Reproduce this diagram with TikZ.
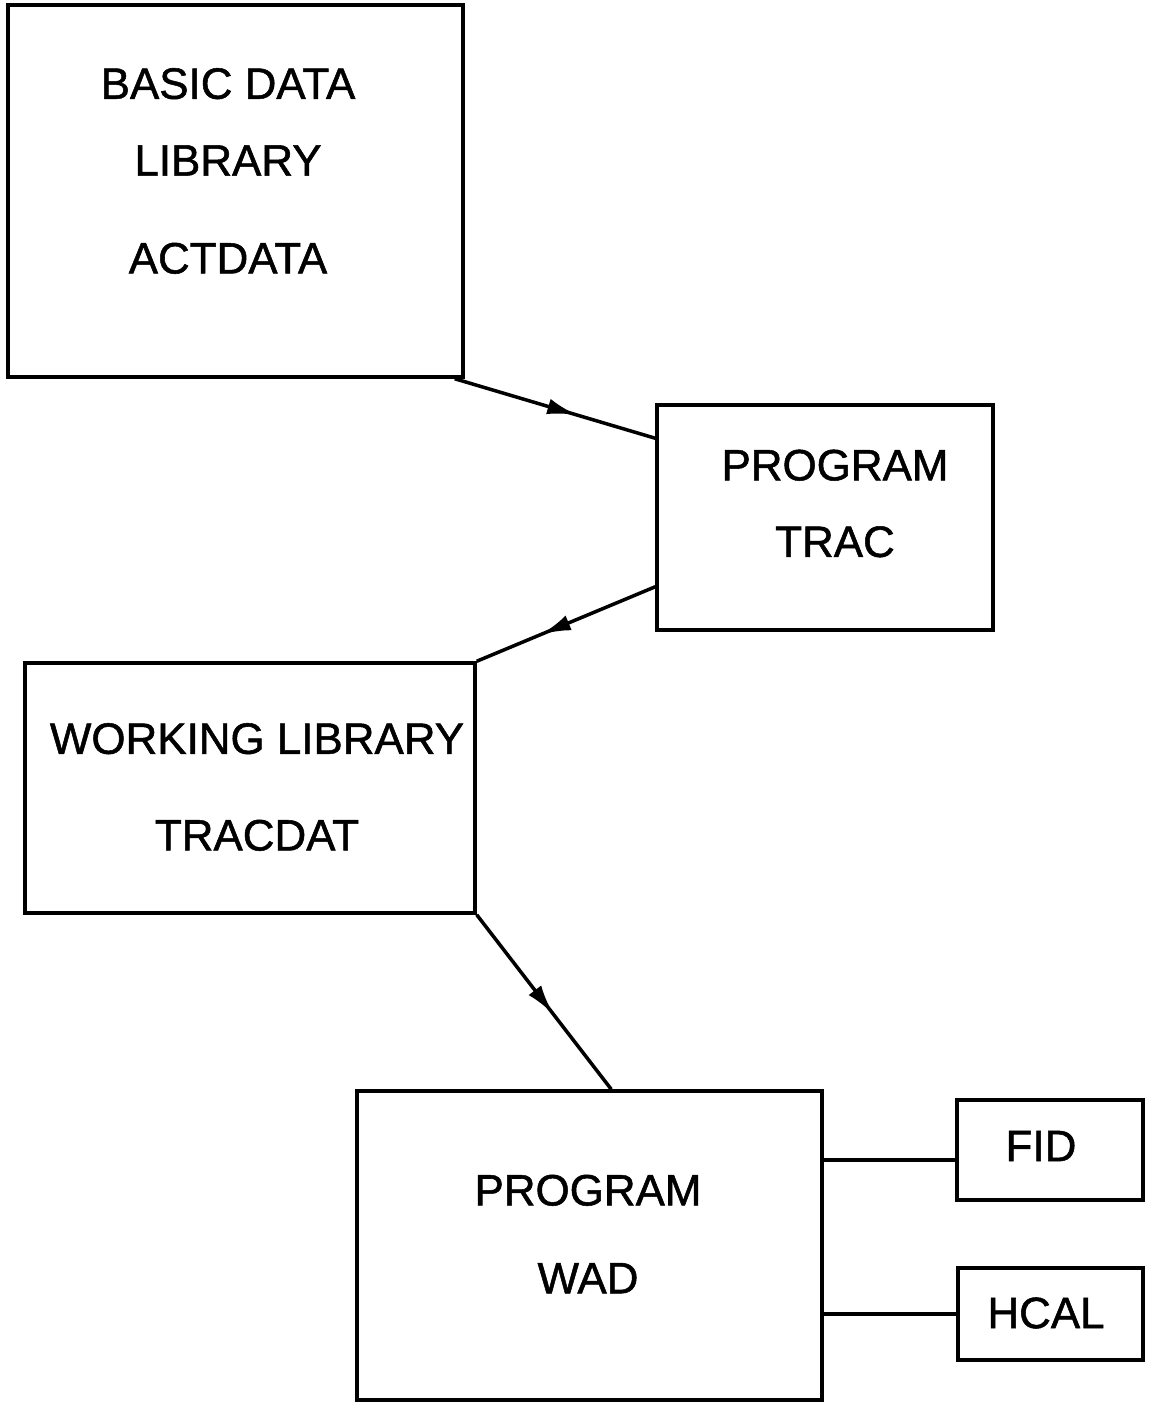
\documentclass[tikz,border=0pt]{standalone}
\usepackage{fontspec}
\setmainfont[FakeBold=1.2]{Liberation Sans}
\usetikzlibrary{arrows.meta, positioning, calc, decorations.markings}

\begin{document}
\begin{tikzpicture}[x=0.02cm, y=-0.02cm, line width=2pt,
    libbox/.style={draw, rectangle, inner sep=0pt},
    boxtext/.style={align=center, inner sep=0pt, font=\fontsize{25}{#1}\selectfont},
    flowline/.style={postaction={decorate}, decoration={markings,
      mark=at position #1 with {\arrow{Latex[length=17pt, width=9pt]}}}}]
  \useasboundingbox (0,0) rectangle (1150,1402);

  % boxes
  \node[libbox, minimum width=9.1cm, minimum height=7.44cm] (actdata) at (235.5,191) {};
  \node[libbox, minimum width=6.72cm, minimum height=4.5cm] (trac) at (825,517.5) {};
  \node[libbox, minimum width=9.0cm, minimum height=5.0cm] (tracdat) at (250,788) {};
  \node[libbox, minimum width=9.3cm, minimum height=6.18cm] (wad) at (589.5,1245.5) {};
  \node[libbox, minimum width=3.72cm, minimum height=2.0cm] (fid) at (1050,1150) {};
  \node[libbox, minimum width=3.7cm, minimum height=1.84cm] (hcal) at (1050.5,1314) {};

  % labels
  \node[boxtext=43.7] (actdatatext) at (228,171) {BASIC DATA\\LIBRARY\\[12pt]ACTDATA};
  \node[boxtext=43.6] (tractext) at (835,503.5) {PROGRAM\\TRAC};
  \node[boxtext=55] (tracdattext) at (257,787) {WORKING LIBRARY\\TRACDAT};
  \node[boxtext=50] (wadtext) at (588,1234) {PROGRAM\\WAD};
  \node[boxtext=30] (fidtext) at (1041,1146) {FID};
  \node[boxtext=30] (hcaltext) at (1046,1313) {HCAL};

  % connectors
  \draw[flowline=0.61] ([xshift=-0.2cm]actdata.south east) -- ([yshift=-0.7cm]trac.north west);
  \draw[flowline=0.64] ([yshift=0.9cm]trac.south west) -- (tracdat.north east);
  \draw[flowline=0.57] (tracdat.south east) -- ([xshift=5.12cm]wad.north west);
  \draw ([yshift=-0.2cm]fid.west -| wad.east) -- ([yshift=-0.2cm]fid.west);
  \draw (hcal.west -| wad.east) -- (hcal.west);
\end{tikzpicture}
\end{document}
